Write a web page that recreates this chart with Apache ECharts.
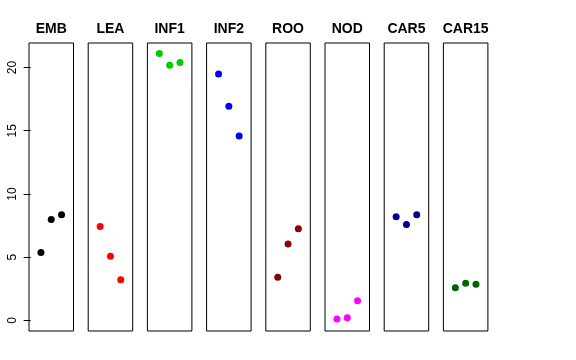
<!DOCTYPE html>
<html>
<head>
<meta charset="utf-8">
<script src="https://cdn.jsdelivr.net/npm/echarts@6/dist/echarts.min.js"></script>
<style>html,body{margin:0;padding:0;background:#fff;}#c{width:576px;height:360px;}</style>
</head>
<body>
<div id="c"></div>
<script>
const categories = ['EMB','LEA','INF1','INF2','ROO','NOD','CAR5','CAR15'];
const xPositions = [1, 2, 3];
const EMB = [5.36, 7.98, 8.35];
const LEA = [7.42, 5.07, 3.22];
const INF1 = [21.1, 20.18, 20.39];
const INF2 = [19.49, 16.93, 14.58];
const ROO = [3.41, 6.05, 7.24];
const NOD = [0.1, 0.21, 1.56];
const CAR5 = [8.19, 7.58, 8.35];
const CAR15 = [2.59, 2.93, 2.85];
const yTicks = [0, 5, 10, 15, 20];
const colors = ['#000000','#FF0000','#00CD00','#0000FF','#8B0000','#FF00FF','#00008B','#006400'];

(function () {
const seriesValues = [EMB, LEA, INF1, INF2, ROO, NOD, CAR5, CAR15];
const yMin = -0.84, yMax = 21.94;
const left0 = 29, step = 59.2, w = 44.5, gTop = 43, gH = 288;

const grids = [], xAxes = [], yAxes = [], series = [], texts = [];
categories.forEach((name, i) => {
  const left = left0 + step * i;
  grids.push({left: left, top: gTop, width: w, height: gH, show: true,
    borderColor: '#000', borderWidth: 1, backgroundColor: 'transparent'});
  xAxes.push({type: 'value', gridIndex: i, min: -0.16, max: 4.16, show: false});
  yAxes.push({type: 'value', gridIndex: i, min: yMin, max: yMax, show: i === 0,
    splitLine: {show: false},
    axisLine: {show: false},
    axisTick: {show: true, inside: false, length: 7, lineStyle: {color: '#000'}, customValues: yTicks},
    axisLabel: {show: true, rotate: 90, margin: 10, color: '#000', fontSize: 12,
      fontFamily: 'Liberation Sans', customValues: yTicks}
  });
  series.push({type: 'scatter', xAxisIndex: i, yAxisIndex: i, symbol: 'circle', symbolSize: 7,
    itemStyle: {color: colors[i], opacity: 1},
    data: seriesValues[i].map((v, k) => [xPositions[k], v])});
  texts.push({type: 'text', x: left + w / 2, y: 29.5,
    style: {text: name, textAlign: 'center', textVerticalAlign: 'middle',
      font: 'bold 14px "Liberation Sans"', fill: '#000'}});
});

const chart = echarts.init(document.getElementById('c'), null, {renderer: 'canvas'});
chart.setOption({
  animation: false,
  backgroundColor: '#fff',
  graphic: texts,
  grid: grids,
  xAxis: xAxes,
  yAxis: yAxes,
  series: series
});
})();
</script>
</body>
</html>
